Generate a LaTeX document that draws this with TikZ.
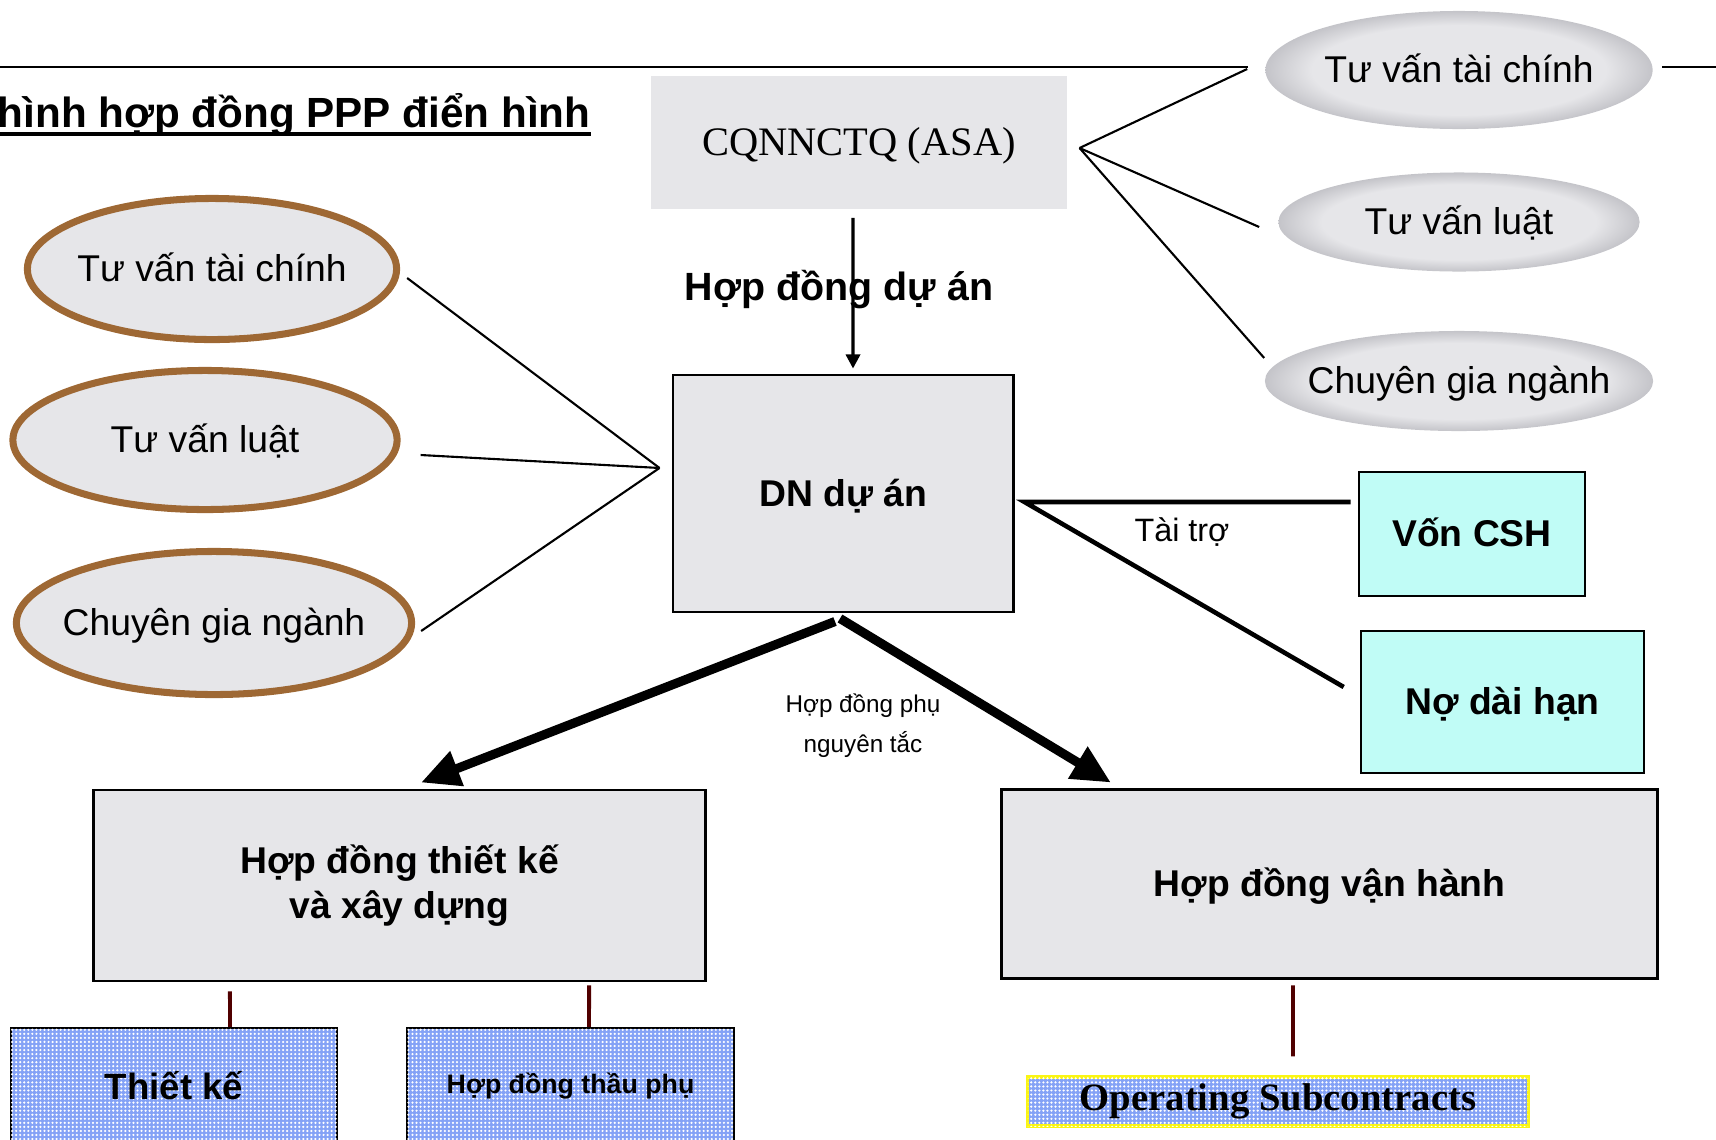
\documentclass[tikz,border=0pt]{standalone}
\usepackage{fontspec}
\setmainfont{Liberation Serif}
\setsansfont{Liberation Sans}
\usetikzlibrary{shapes.geometric,arrows.meta,patterns.meta}

\definecolor{marble}{RGB}{230,230,233}
\definecolor{marbleedge}{RGB}{196,196,201}
\definecolor{rimbrown}{RGB}{158,104,52}
\definecolor{fundcyan}{RGB}{192,252,246}
\definecolor{dotblue}{RGB}{132,162,246}
\definecolor{stubred}{RGB}{80,0,0}
\definecolor{opsyellow}{RGB}{250,245,20}

\pgfdeclareradialshading{softedge}{\pgfpointorigin}{color(0bp)=(marble); color(19bp)=(marble); color(25bp)=(marbleedge); color(50bp)=(marbleedge)}

\newcommand{\txtmain}{\fontsize{10.6}{12.8}\selectfont}

\tikzset{
  marblebox/.style={rectangle, fill=marble, draw=black, line width=0.8pt, inner sep=0pt, align=center, font=\sffamily\bfseries\txtmain},
  onerow/.style={text height=0.92em, text depth=0.2em},
  rimoval/.style={ellipse, fill=marble, draw=rimbrown, line width=2pt, inner sep=0pt, inner xsep=-0.3cm, onerow, font=\sffamily\txtmain},
  softoval/.style={ellipse, shading=softedge, inner sep=0pt, inner xsep=-0.3cm, onerow, font=\sffamily\txtmain},
  fundbox/.style={rectangle, fill=fundcyan, draw=black, line width=0.7pt, inner sep=0pt, onerow, font=\sffamily\bfseries\txtmain},
  dotbox/.style={rectangle, fill=dotblue, postaction={pattern={Dots[distance=1.15pt,radius=0.35pt]}, pattern color=white}, draw=black, line width=0.7pt, inner sep=0pt},
  thinlink/.style={line width=0.6pt},
  fundlink/.style={line width=1.3pt},
  bigarrow/.style={line width=2.6pt, -{Triangle[length=11pt,width=10pt]}},
  stub/.style={draw=stubred, line width=1.1pt}
}

\begin{document}
\begin{tikzpicture}[x=0.01cm,y=-0.01cm]
	\useasboundingbox (0,0) rectangle (1716,1139);
	% Header rule and title
	\draw [line width=0.85pt] (0,67) -- (1248,67);
	\draw [line width=0.85pt] (1662,67) -- (1716,67);
	\node [anchor=base east, inner sep=0pt, font=\sffamily\bfseries\fontsize{12}{14}\selectfont] (title) at (591,127) {hình hợp đồng PPP điển hình};
	\draw [line width=1.1pt] ([yshift=-0.07cm]title.base west) -- ([yshift=-0.07cm]title.base east);
	% Authority and project company
	\node [marblebox, draw=none, onerow, font=\rmfamily\fontsize{11.5}{14}\selectfont, minimum width=4.16cm, minimum height=1.32cm] (cq) at (859,142.5) {CQNNCTQ (ASA)};
	\node [marblebox, onerow, minimum width=3.40cm, minimum height=2.37cm] (dn) at (843,493.5) {DN dự án};
	\draw [line width=0.9pt, -{Triangle[length=4pt,width=4pt]}] ([xshift=-0.06cm,yshift=-0.08cm]cq.south) -- ([xshift=0.10cm,yshift=0.05cm]dn.north);
	\node [font=\sffamily\bfseries\fontsize{11.2}{13}\selectfont] (hdda) at (839,290) {Hợp đồng dự án};
	% Left advisers
	\node [rimoval, minimum width=3.69cm, minimum height=1.41cm] (l1) at (212,269) {Tư vấn tài chính};
	\node [rimoval, minimum width=3.84cm, minimum height=1.39cm] (l2) at (205,440) {Tư vấn luật};
	\node [rimoval, minimum width=3.95cm, minimum height=1.43cm] (l3) at (214,623) {Chuyên gia ngành};
	\coordinate (hubL) at ([xshift=-0.12cm,yshift=0.255cm]dn.west);
	\draw [thinlink] ([xshift=0.07cm,yshift=-0.09cm]l1.east) -- (hubL);
	\draw [thinlink] ([xshift=0.20cm,yshift=-0.15cm]l2.east) -- (hubL);
	\draw [thinlink] ([xshift=0.06cm,yshift=-0.08cm]l3.east) -- (hubL);
	% Right advisers
	\node [softoval, minimum width=3.87cm, minimum height=1.18cm] (r1) at (1459,70) {Tư vấn tài chính};
	\node [softoval, minimum width=3.61cm, minimum height=0.99cm] (r2) at (1459,222) {Tư vấn luật};
	\node [softoval, minimum width=3.88cm, minimum height=1.00cm] (r3) at (1459,381) {Chuyên gia ngành};
	\coordinate (hubR) at ([xshift=0.11cm,yshift=-0.055cm]cq.east);
	\draw [thinlink] (hubR) -- ([xshift=-0.175cm,yshift=0.01cm]r1.west);
	\draw [thinlink] (hubR) -- ([xshift=-0.185cm,yshift=-0.05cm]r2.west);
	\draw [thinlink] (hubR) -- ([yshift=0.23cm]r3.west);
	% Funding
	\node [fundbox, minimum width=2.26cm, minimum height=1.24cm] (von) at (1472,534) {Vốn CSH};
	\node [fundbox, minimum width=2.83cm, minimum height=1.42cm] (no) at (1502.5,702) {Nợ dài hạn};
	\coordinate (hubT) at ([xshift=0.10cm,yshift=-0.085cm]dn.east);
	\draw [fundlink] ([xshift=-0.07cm,yshift=0.32cm]von.west) -- (hubT) -- ([xshift=-0.16cm,yshift=0.15cm]no.west);
	\node [font=\sffamily\fontsize{9.2}{11}\selectfont] (taitro) at (1182,532) {Tài trợ};
	% Contracts
	\node [marblebox, minimum width=6.12cm, minimum height=1.91cm] (tk) at (399.5,885.5) {Hợp đồng thiết kế\\và xây dựng};
	\node [marblebox, onerow, minimum width=6.55cm, minimum height=1.89cm] (vh) at (1329.5,884) {Hợp đồng vận hành};
	\draw [bigarrow] ([xshift=-0.08cm,yshift=-0.08cm]dn.south) -- ([xshift=0.215cm,yshift=0.06cm]tk.north);
	\draw [bigarrow] ([xshift=-0.03cm,yshift=-0.05cm]dn.south) -- ([xshift=-2.185cm,yshift=0.055cm]vh.north);
	\node [font=\sffamily\fontsize{6.9}{11.3}\selectfont, align=center] (phu) at (863,726) {Hợp đồng phụ\\nguyên tắc};
	% Sub-contracts
	\node [dotbox, minimum width=3.26cm, minimum height=1.16cm, font=\sffamily\bfseries\fontsize{10.4}{12}\selectfont] (thietke) at (174,1086) {Thiết kế};
	\node [dotbox, minimum width=3.27cm, minimum height=1.16cm, font=\sffamily\bfseries\fontsize{7.6}{9}\selectfont] (thau) at (570.5,1086) {Hợp đồng thầu phụ};
	\node [dotbox, draw=opsyellow, line width=0.9pt, minimum width=5.0cm, minimum height=0.49cm, font=\rmfamily\bfseries\fontsize{11}{13}\selectfont] (ops) at (1278,1101.5) {Operating Subcontracts};
	\draw [stub] ([xshift=-1.695cm,yshift=-0.09cm]tk.south) -- ([xshift=0.56cm]thietke.north);
	\draw [stub] ([xshift=1.895cm,yshift=-0.03cm]tk.south) -- ([xshift=0.185cm]thau.north);
	\draw [stub] ([xshift=-0.365cm,yshift=-0.055cm]vh.south) -- ([xshift=0.15cm,yshift=0.19cm]ops.north);
\end{tikzpicture}
\end{document}
